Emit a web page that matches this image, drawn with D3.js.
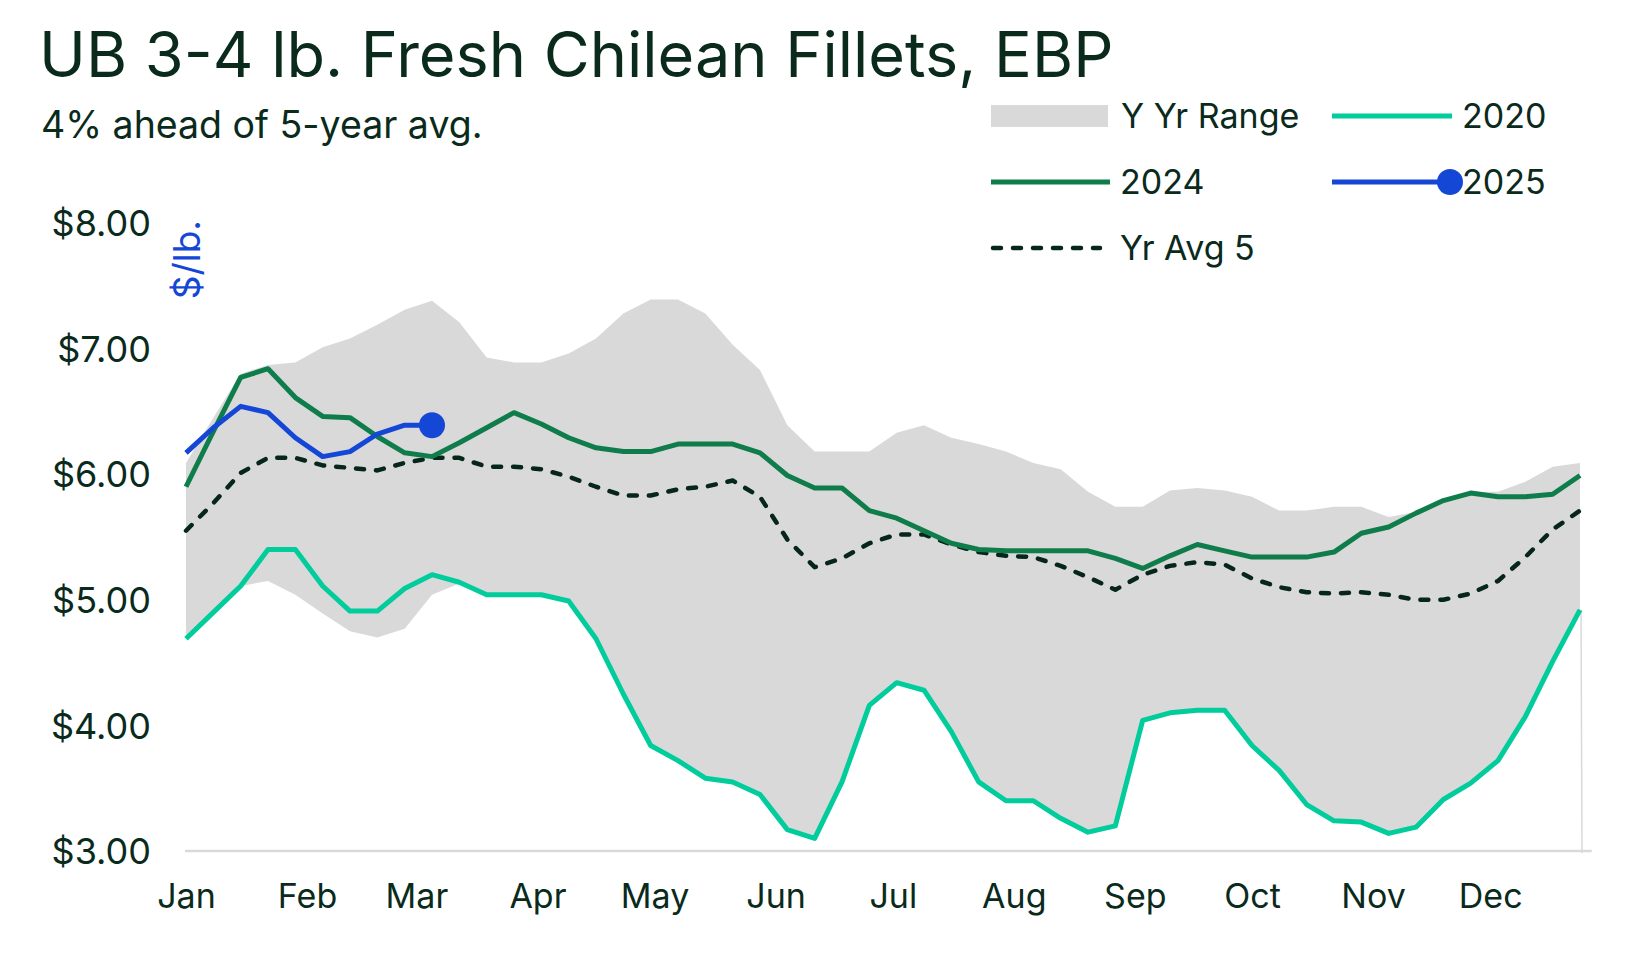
<!DOCTYPE html>
<html>
<head>
<meta charset="utf-8">
<script src="https://cdn.jsdelivr.net/npm/d3@7"></script>
<style>
  html, body { margin: 0; padding: 0; background: #ffffff; }
  svg { display: block; }
  text { font-family: Inter, "Noto Sans", sans-serif; }
</style>
</head>
<body>
<svg id="chart" width="1650" height="956"></svg>
<script>
// ---------- DATA ----------
const monthLabels = ["Jan","Feb","Mar","Apr","May","Jun","Jul","Aug","Sep","Oct","Nov","Dec"];
const yTicks = [3, 4, 5, 6, 7, 8];

const rangeUpper = [6.09, 6.45, 6.80, 6.87, 6.89, 7.01, 7.08, 7.19, 7.31, 7.38,
  7.21, 6.93, 6.89, 6.89, 6.96, 7.08, 7.28, 7.39, 7.39, 7.28,
  7.03, 6.83, 6.39, 6.18, 6.18, 6.18, 6.33, 6.39, 6.29, 6.24,
  6.18, 6.09, 6.04, 5.86, 5.74, 5.74, 5.87, 5.89, 5.87, 5.82,
  5.71, 5.71, 5.74, 5.74, 5.66, 5.70, 5.80, 5.86, 5.86, 5.94,
  6.06, 6.09];
const rangeLower = [4.69, 4.90, 5.11, 5.15, 5.04, 4.89, 4.75, 4.70, 4.77, 5.04,
  5.13, 5.04, 5.04, 5.04, 4.99, 4.69, 4.25, 3.84, 3.72, 3.58,
  3.55, 3.45, 3.17, 3.10, 3.55, 4.16, 4.34, 4.28, 3.95, 3.55,
  3.40, 3.40, 3.26, 3.15, 3.20, 4.04, 4.10, 4.12, 4.12, 3.84,
  3.64, 3.37, 3.24, 3.23, 3.14, 3.19, 3.41, 3.54, 3.72, 4.07,
  4.51, 4.92];
const y2020 = [4.69, 4.90, 5.11, 5.40, 5.40, 5.11, 4.91, 4.91, 5.09, 5.20,
  5.14, 5.04, 5.04, 5.04, 4.99, 4.69, 4.25, 3.84, 3.72, 3.58,
  3.55, 3.45, 3.17, 3.10, 3.55, 4.16, 4.34, 4.28, 3.95, 3.55,
  3.40, 3.40, 3.26, 3.15, 3.20, 4.04, 4.10, 4.12, 4.12, 3.84,
  3.64, 3.37, 3.24, 3.23, 3.14, 3.19, 3.41, 3.54, 3.72, 4.07,
  4.51, 4.92];
const y2024 = [5.90, 6.34, 6.77, 6.84, 6.61, 6.46, 6.45, 6.30, 6.17, 6.14,
  6.25, 6.37, 6.49, 6.40, 6.29, 6.21, 6.18, 6.18, 6.24, 6.24,
  6.24, 6.17, 5.99, 5.89, 5.89, 5.71, 5.65, 5.55, 5.45, 5.40,
  5.39, 5.39, 5.39, 5.39, 5.33, 5.25, 5.35, 5.44, 5.39, 5.34,
  5.34, 5.34, 5.38, 5.53, 5.58, 5.69, 5.79, 5.85, 5.82, 5.82,
  5.84, 5.99];
const y2025 = [6.17, 6.37, 6.54, 6.49, 6.29, 6.14, 6.18, 6.32, 6.39, 6.39];
const avg5 = [5.55, 5.77, 6.01, 6.13, 6.13, 6.07, 6.05, 6.03, 6.09, 6.13,
  6.13, 6.06, 6.06, 6.04, 5.98, 5.90, 5.83, 5.83, 5.88, 5.90,
  5.95, 5.82, 5.48, 5.26, 5.33, 5.45, 5.52, 5.52, 5.44, 5.38,
  5.35, 5.34, 5.27, 5.18, 5.08, 5.20, 5.27, 5.30, 5.28, 5.17,
  5.10, 5.06, 5.05, 5.06, 5.04, 5.00, 5.00, 5.05, 5.15, 5.34,
  5.56, 5.71];

const titleText = "UB 3-4 lb. Fresh Chilean Fillets, EBP";
const subtitleText = "4% ahead of 5-year avg.";
const unitText = "$/lb.";

// ---------- STYLE ----------
const C = {
  text: "#0a2a1c",
  band: "#d9d9d9",
  c2020: "#00cc9c",
  c2024: "#0f7d4b",
  c2025: "#1447d6",
  avg: "#06261a",
  axis: "#d9d9d9"
};

// weekly dates
const start = new Date(2025, 0, 1);
const weeks = d3.range(y2024.length).map(i => d3.timeDay.offset(start, 7 * i));

const svg = d3.select("#chart");

const x = d3.scaleTime()
  .domain([weeks[0], weeks[weeks.length - 1]])
  .range([186, 1580]);
const y = d3.scaleLinear().domain([3, 8]).range([851, 223]);

// ---------- BAND ----------
const band = weeks.map((d, i) => ({ d, lo: rangeLower[i], hi: rangeUpper[i] }));
svg.append("path")
  .datum(band)
  .attr("fill", C.band)
  .attr("d", d3.area().x(p => x(p.d)).y0(p => y(p.lo)).y1(p => y(p.hi)));
// closing edge of band at the right
svg.append("line")
  .attr("x1", x(weeks[weeks.length - 1]) + 1).attr("x2", x(weeks[weeks.length - 1]) + 2)
  .attr("y1", y(rangeLower[rangeLower.length - 1])).attr("y2", y(3) + 2)
  .attr("stroke", C.band).attr("stroke-width", 1.5);

// ---------- AXES ----------
svg.append("line")
  .attr("x1", x(weeks[0]) - 1).attr("x2", x(d3.timeDay.offset(weeks[weeks.length - 1], 3)))
  .attr("y1", y(3)).attr("y2", y(3))
  .attr("stroke", C.axis).attr("stroke-width", 2.5);

const yAxis = d3.axisLeft(y).tickValues(yTicks).tickFormat(d3.format("$.2f")).tickSize(0).tickPadding(0);
const gy = svg.append("g").attr("transform", "translate(151,0)").call(yAxis);
gy.select(".domain").remove();
gy.selectAll("text")
  .attr("fill", C.text).attr("font-size", 36).attr("font-family", "Inter").attr("dy", "0.35em");

const monthTicks = d3.timeMonth.range(new Date(2025, 0, 1), new Date(2026, 0, 1));
const xAxis = d3.axisBottom(x).tickValues(monthTicks).tickFormat((d, i) => monthLabels[i]).tickSize(0).tickPadding(0);
const gx = svg.append("g").attr("transform", "translate(0,908)").call(xAxis);
gx.select(".domain").remove();
gx.selectAll("text")
  .attr("fill", C.text).attr("font-size", 34).attr("font-family", "Inter").attr("dy", "0");

// ---------- LINES ----------
const line = d3.line().x((v, i) => x(weeks[i])).y(v => y(v));

svg.append("path").datum(y2020).attr("d", line)
  .attr("fill", "none").attr("stroke", C.c2020).attr("stroke-width", 5).attr("stroke-linejoin", "round");
svg.append("path").datum(avg5).attr("d", line)
  .attr("fill", "none").attr("stroke", C.avg).attr("stroke-width", 4.5)
  .attr("stroke-dasharray", "8,12").attr("stroke-linecap", "round").attr("stroke-linejoin", "round");
svg.append("path").datum(y2024).attr("d", line)
  .attr("fill", "none").attr("stroke", C.c2024).attr("stroke-width", 5).attr("stroke-linejoin", "round");
svg.append("path").datum(y2025).attr("d", line)
  .attr("fill", "none").attr("stroke", C.c2025).attr("stroke-width", 5).attr("stroke-linejoin", "round");
svg.append("circle")
  .attr("cx", x(weeks[y2025.length - 1])).attr("cy", y(y2025[y2025.length - 1]))
  .attr("r", 13).attr("fill", C.c2025);

// ---------- TITLES ----------
svg.append("text").text(titleText)
  .attr("x", 39).attr("y", 77).attr("font-size", 63).attr("fill", C.text);
svg.append("text").text(subtitleText)
  .attr("x", 41).attr("y", 138).attr("font-size", 37.5).attr("fill", C.text);
svg.append("text").text(unitText)
  .attr("transform", "translate(200,220) rotate(-90)")
  .attr("text-anchor", "end").attr("font-size", 37).attr("fill", C.c2025);

// ---------- LEGEND ----------
const lg = svg.append("g").attr("font-size", 34).attr("fill", C.text);
lg.append("rect").attr("x", 991).attr("y", 105).attr("width", 117).attr("height", 22).attr("fill", C.band);
lg.append("text").attr("x", 1121).attr("y", 128).text("Y Yr Range");
lg.append("line").attr("x1", 1332).attr("x2", 1452).attr("y1", 116).attr("y2", 116)
  .attr("stroke", C.c2020).attr("stroke-width", 5);
lg.append("text").attr("x", 1462).attr("y", 128).text("2020");

lg.append("line").attr("x1", 991).attr("x2", 1110).attr("y1", 182).attr("y2", 182)
  .attr("stroke", C.c2024).attr("stroke-width", 5);
lg.append("text").attr("x", 1120).attr("y", 194).text("2024");
lg.append("line").attr("x1", 1332).attr("x2", 1450).attr("y1", 182).attr("y2", 182)
  .attr("stroke", C.c2025).attr("stroke-width", 5);
lg.append("circle").attr("cx", 1450).attr("cy", 182).attr("r", 13).attr("fill", C.c2025);
lg.append("text").attr("x", 1462).attr("y", 194).text("2025");

lg.append("line").attr("x1", 993).attr("x2", 1100).attr("y1", 248).attr("y2", 248)
  .attr("stroke", C.avg).attr("stroke-width", 4.5)
  .attr("stroke-dasharray", "8,12").attr("stroke-linecap", "round");
lg.append("text").attr("x", 1120).attr("y", 260).text("Yr Avg 5");
</script>
</body>
</html>
